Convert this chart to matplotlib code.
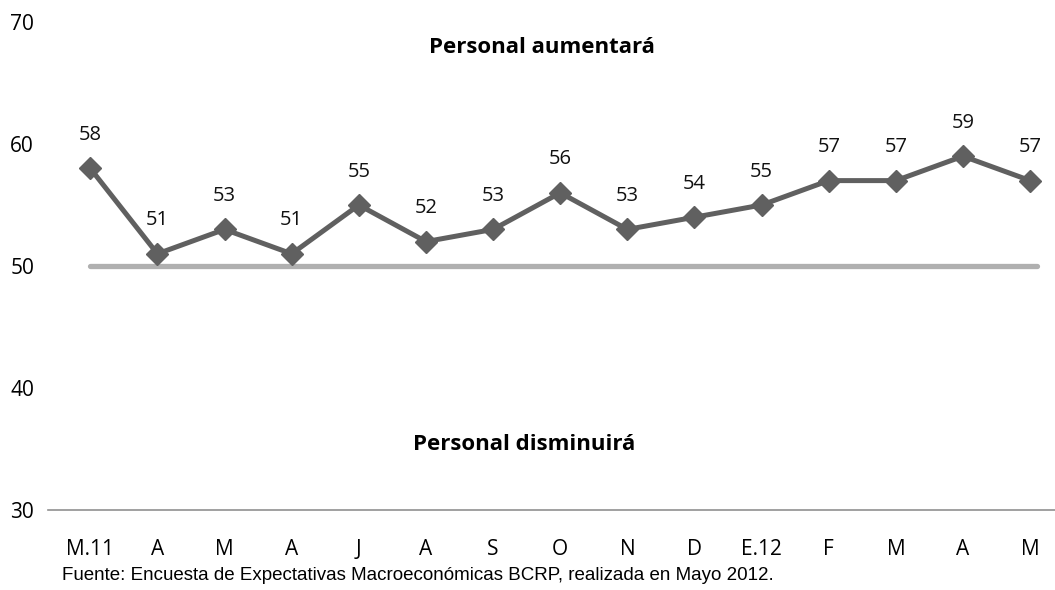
import numpy as np
import matplotlib
matplotlib.use("Agg")
from matplotlib import pyplot as plt

meses = ["M.11", "A", "M", "A", "J", "A", "S", "O", "N", "D", "E.12", "F", "M", "A", "M"]
valores = [58, 51, 53, 51, 55, 52, 53, 56, 53, 54, 55, 57, 57, 59, 57]
umbral = 50

plt.rcParams['font.family'] = ['Open Sans', 'DejaVu Sans']

fig = plt.figure(figsize=(10.55, 5.9), dpi=100)
ax = fig.add_axes([0.0455, 0.1356, 0.9545, 0.8271])

x = np.arange(len(meses))
ax.plot([0, len(meses) - 0.9], [umbral, umbral], color='#b0b0b0', lw=3.8, solid_capstyle='round', zorder=1)
ax.plot(x, valores, color='#606060', lw=3.6, marker='D', markersize=11.5, zorder=2)

for xi, v in zip(x, valores):
    ax.annotate(str(v), (xi, v), xytext=(0, 24), textcoords='offset points',
                ha='center', va='center', fontsize=14.5, color='#111111')

ax.text(0.4906, 67.87, "Personal aumentará", transform=ax.get_yaxis_transform(), ha='center', va='center',
        fontsize=16, fontweight='bold')
ax.text(0.4727, 35.33, "Personal disminuirá", transform=ax.get_yaxis_transform(), ha='center', va='center',
        fontsize=16, fontweight='bold')

ax.set_xlim(-0.63, 14.37)
ax.set_ylim(30, 70)
ax.set_yticks([30, 40, 50, 60, 70])
ax.set_xticks(x)
ax.set_xticklabels(meses)
ax.tick_params(axis='y', length=0, pad=10, labelsize=15)
ax.tick_params(axis='x', length=0, pad=21, labelsize=15)
for s in ['top', 'right', 'left']:
    ax.spines[s].set_visible(False)
ax.spines['bottom'].set_color('#909090')
ax.spines['bottom'].set_linewidth(1.2)

fig.text(0.059, 0.017, "Fuente: Encuesta de Expectativas Macroeconómicas BCRP, realizada en Mayo 2012.",
         family=['Liberation Sans', 'DejaVu Sans'], fontsize=13.5, ha='left', va='baseline')

fig.savefig("out.png", dpi=100)
